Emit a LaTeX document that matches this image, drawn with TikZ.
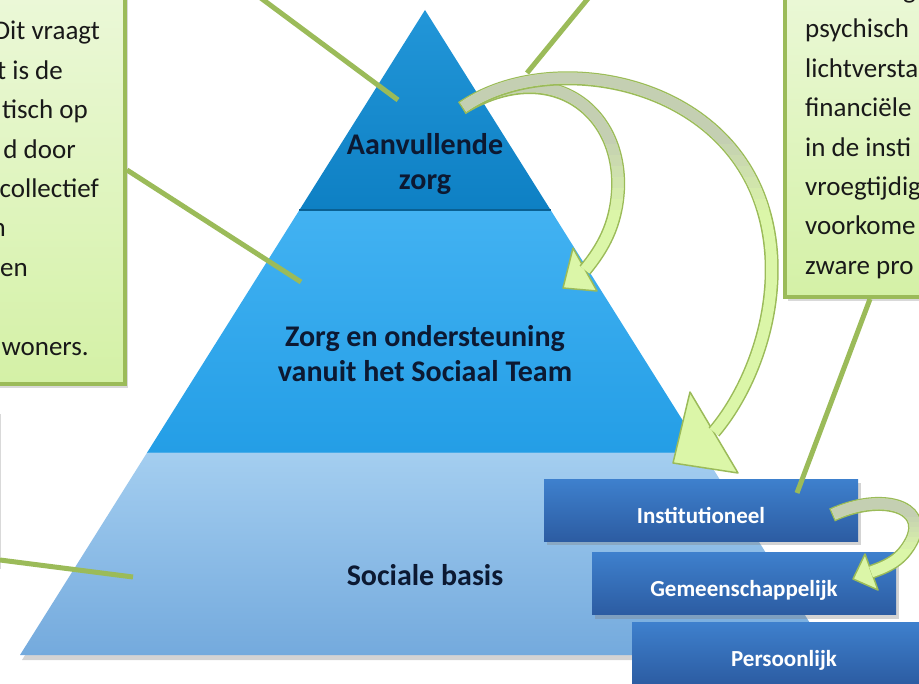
\documentclass[tikz,border=0pt]{standalone}
\usepackage{fontspec}
\setmainfont{Carlito}
\usetikzlibrary{calc,shadows}

\definecolor{leafline}{RGB}{155,187,89}
\definecolor{leaftop}{RGB}{238,249,222}
\definecolor{leafbot}{RGB}{212,241,166}
\definecolor{armgrey}{RGB}{196,207,178}
\definecolor{armgreen}{RGB}{219,246,168}
\definecolor{tierAtop}{RGB}{34,150,216}
\definecolor{tierAbot}{RGB}{14,128,196}
\definecolor{tierBtop}{RGB}{66,178,242}
\definecolor{tierBbot}{RGB}{36,158,230}
\definecolor{tierCtop}{RGB}{164,206,240}
\definecolor{tierCbot}{RGB}{116,170,221}
\definecolor{levtop}{RGB}{62,128,205}
\definecolor{levbot}{RGB}{44,92,162}
\definecolor{inktier}{RGB}{12,25,50}

\tikzset{
  callout/.style={draw=leafline, line width=4pt, top color=leaftop, bottom color=leafbot,
    drop shadow={opacity=.3, shadow xshift=3pt, shadow yshift=-4pt}, inner sep=0pt},
  calltext/.style={font=\fontsize{27}{32}\selectfont, text=black!90, inner sep=0pt},
  tiertext/.style={font=\bfseries\fontsize{30}{36}\selectfont, text=inktier, anchor=base, inner sep=0pt},
  levelbox/.style={top color=levtop, bottom color=levbot, minimum height=62pt, inner sep=0pt,
    text=white, font=\bfseries\fontsize{23}{28}\selectfont, text height=30pt, text depth=4pt,
    drop shadow={opacity=.35, shadow xshift=3pt, shadow yshift=-4pt}},
  wire/.style={leafline, line width=5pt},
  armhead/.style={fill=armgreen, draw=leafline, line width=1.5pt, line join=round},
}

% #1 band, #2 head, #3/#4 rows where the grey turns into green
\newcommand\bentarrow[4]{%
  \filldraw[armhead] #2;
  \draw[leafline, line width=14pt] #1;
  \draw[armgreen, line width=11pt, shorten <=1.5pt] #1;
  \begin{scope}
    \clip (0,-20) rectangle (919,#3);
    \draw[armgrey, line width=11pt, shorten <=1.5pt] #1;
  \end{scope}
  \foreach \k in {1,...,6} {
    \pgfmathsetmacro\bandtop{#3+(\k-1)*(#4-#3)/6}
    \pgfmathsetmacro\bandbot{#3+\k*(#4-#3)/6}
    \pgfmathtruncatemacro\mixpct{100-\k*100/7}
    \begin{scope}
      \clip (0,\bandtop) rectangle (919,\bandbot);
      \draw[armgrey!\mixpct!armgreen, line width=11pt, shorten <=1.5pt] #1;
    \end{scope}
  }
}

\begin{document}
\begin{tikzpicture}[x=1pt, y=-1pt]
  \useasboundingbox (0,0) rectangle (919,684);
  \clip (0,0) rectangle (919,684);

  \coordinate (apex) at (425,10);
  \coordinate (bl) at (20,655);
  \coordinate (br) at (830,655);
  \coordinate (l1) at ($(apex)!0.31!(bl)$);
  \coordinate (r1) at ($(apex)!0.31!(br)$);
  \coordinate (l2) at ($(apex)!0.6853!(bl)$);
  \coordinate (r2) at ($(apex)!0.6853!(br)$);

  \path[top color=tierCtop, bottom color=tierCbot,
    drop shadow={opacity=.35, shadow xshift=2pt, shadow yshift=-5pt}] (l2) -- (r2) -- (br) -- (bl) -- cycle;
  \path[top color=tierBtop, bottom color=tierBbot] (l1) -- (r1) -- (r2) -- (l2) -- cycle;
  \path[top color=tierAtop, bottom color=tierAbot] (apex) -- (r1) -- (l1) -- cycle;
  \draw[tierAbot!75!black, line width=1.5pt] (l1) -- (r1);
  \draw[tierBbot!70!tierCtop, line width=1pt] (l2) -- (r2);

  \foreach \yy/\txt [count=\i] in {155/Aanvullende, 190/zorg, 347/Zorg en ondersteuning,
      382/vanuit het Sociaal Team, 585/Sociale basis}
    \node[tiertext] (tier\i) at (425,\yy) {\txt};

  \node[callout, minimum width=330pt, minimum height=439pt] (leftcall) at (-40,164.5) {};
  \node[callout, minimum width=315pt, minimum height=352pt] (rightcall) at (942.5,121) {};
  \node[callout, minimum width=298pt, minimum height=155pt] (lowcall) at (-151,487.5) {};

  \foreach \yy/\xx/\txt [count=\i] in {40/100/Dit vraagt, 79.4/63/t is de, 118.8/88/tisch op,
      158.2/76/d door, 197.6/99/collectief, 237/6/n, 276.4/28/en, 355.2/89/woners.}
    \node[calltext, anchor=base east] (dike\i) at (\xx,\yy) {\txt};

  \node[calltext, anchor=base west] (cutg) at (903,-1.4) {g};
  \foreach \yy/\txt [count=\i] in {38/psychisch, 77.4/lichtversta, 116.8/financiële,
      156.2/in de insti, 195.6/vroegtijdig, 235/voorkome, 274.4/zware pro}
    \node[calltext, anchor=base west] (rechts\i) at (805,\yy) {\txt};

  \node[levelbox, minimum width=314pt] (inst) at (701,510.5) {Institutioneel};
  \node[levelbox, minimum width=304pt] (gem) at (744,583.5) {Gemeenschappelijk};
  \node[levelbox, minimum width=304pt] (pers) at (784,653.5) {Persoonlijk};

  \coordinate (hintA) at (398,100);
  \coordinate (hintB) at (527,73);
  \coordinate (hintC) at (301,282);
  \coordinate (hintD) at (133,577);
  \coordinate (hintE) at (797,493);
  \draw[wire] (250,-10) -- (hintA);
  \draw[wire] (595,-10) -- (hintB);
  \draw[wire] (leftcall.east |- 0,170) -- (hintC);
  \draw[wire] (lowcall.east |- 0,560) -- (hintD);
  \draw[wire] (rightcall.south -| 870,0) -- (hintE);

  \coordinate (tail) at (462,108);
  \coordinate (midA) at (618,190);
  \coordinate (endA) at (585,270);
  \coordinate (midB) at (760,200);
  \coordinate (endB) at (714,432);
  \coordinate (tailC) at (832,515);
  \coordinate (midC) at (912,540);
  \coordinate (endC) at (871,572);

  \bentarrow{(tail) .. controls +(88,-53) and +(4,-80) .. (midA) .. controls +(-2,35) and +(18,-22) .. (endA)}
    {(573,248) -- (563,288) -- (597,291) -- cycle}{145}{210}
  \bentarrow{(tail) .. controls +(83,-58) and +(-45,-125) .. (midB) .. controls +(30,83) and +(44,-52) .. (endB)}
    {(690,392) -- (673,463) -- (738,473) -- cycle}{145}{210}
  \bentarrow{(tailC) .. controls +(48,-22) and +(16,-35) .. (midC) .. controls +(-10,20) and +(17,-6) .. (endC)}
    {(865,554) -- (853,579) -- (878,590) -- cycle}{518}{548}
\end{tikzpicture}
\end{document}
